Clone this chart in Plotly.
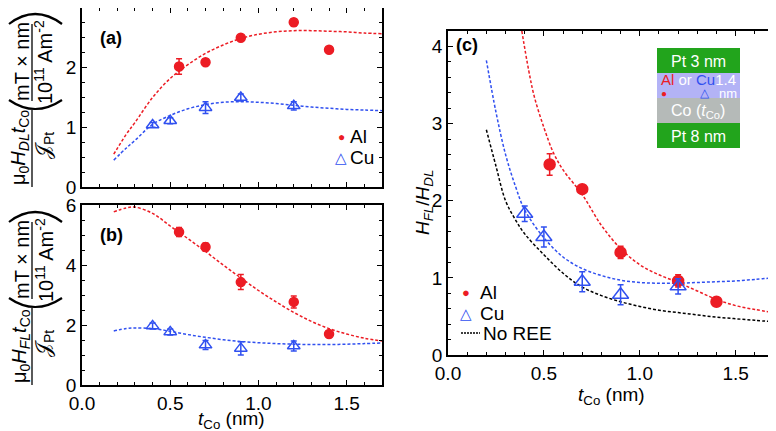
import plotly.graph_objects as go
from plotly.subplots import make_subplots

# ── data ────────────────────────────────────────────────────────────────────
t_al = [0.55, 0.7, 0.9, 1.2, 1.4]
t_cu = [0.4, 0.5, 0.7, 0.9, 1.2]

# (a) damping-like efficiency
dl_al = [2.02, 2.09, 2.50, 2.76, 2.30]
dl_al_err = [0.13, 0.05, 0.04, 0.06, 0.04]
dl_cu = [1.04, 1.11, 1.33, 1.50, 1.36]
dl_cu_err = [0.04, 0.05, 0.10, 0.06, 0.07]

# (b) field-like efficiency
fl_al = [5.10, 4.60, 3.43, 2.77, 1.70]
fl_al_err = [0.15, 0.13, 0.25, 0.20, 0.05]
fl_cu = [1.97, 1.77, 1.33, 1.22, 1.30]
fl_cu_err = [0.10, 0.10, 0.15, 0.22, 0.17]

# (c) ratio H_FL / H_DL
t_al_c = [0.53, 0.7, 0.9, 1.2, 1.4]
r_al = [2.47, 2.15, 1.33, 0.96, 0.69]
r_al_err = [0.14, 0.05, 0.08, 0.08, 0.03]
r_cu = [1.83, 1.53, 0.95, 0.78, 0.89]
r_cu_err = [0.10, 0.13, 0.13, 0.13, 0.10]

# fit curves
t_fit = [0.18, 0.25, 0.3, 0.4, 0.5, 0.6, 0.7, 0.8, 0.9, 1.0, 1.1, 1.2, 1.3, 1.4, 1.5, 1.6, 1.7]
fit_dl_al = [0.55, 0.88, 1.08, 1.50, 1.82, 2.05, 2.24, 2.38, 2.49, 2.56, 2.60, 2.62, 2.62, 2.61, 2.60, 2.58, 2.57]
fit_dl_cu = [0.45, 0.65, 0.78, 1.05, 1.20, 1.31, 1.38, 1.42, 1.43, 1.42, 1.40, 1.37, 1.34, 1.32, 1.30, 1.29, 1.28]
fit_fl_al = [5.77, 5.90, 5.93, 5.72, 5.30, 4.88, 4.45, 4.00, 3.57, 3.15, 2.77, 2.42, 2.12, 1.88, 1.70, 1.56, 1.47]
fit_fl_cu = [1.80, 1.88, 1.90, 1.88, 1.79, 1.68, 1.59, 1.51, 1.45, 1.41, 1.38, 1.36, 1.35, 1.35, 1.36, 1.38, 1.40]

t_fit_al_c = [0.385, 0.42, 0.45, 0.5, 0.55, 0.6, 0.7, 0.8, 0.9, 1.0, 1.1, 1.2, 1.3, 1.4, 1.5, 1.6, 1.7]
fit_r_al = [4.20, 3.70, 3.35, 2.95, 2.62, 2.40, 2.08, 1.68, 1.38, 1.17, 1.04, 0.94, 0.83, 0.72, 0.64, 0.59, 0.55]
t_fit_c = [0.2, 0.25, 0.3, 0.35, 0.4, 0.5, 0.6, 0.7, 0.8, 0.9, 1.0, 1.1, 1.2, 1.3, 1.4, 1.5, 1.6, 1.7]
fit_r_cu = [3.82, 3.15, 2.60, 2.20, 1.88, 1.52, 1.27, 1.12, 1.03, 0.97, 0.94, 0.93, 0.93, 0.94, 0.95, 0.96, 0.98, 1.00]
fit_r_none = [2.92, 2.45, 2.00, 1.76, 1.57, 1.30, 1.06, 0.88, 0.77, 0.69, 0.63, 0.58, 0.55, 0.52, 0.49, 0.47, 0.45, 0.43]

RED = '#ec1c24'
BLUE = '#3050f0'
FONT = 'Liberation Sans, Arial, sans-serif'
W, H = 776, 431
PAD = 8  # page body margin: the figure is drawn 8 px in from the window corner


def fx(p):
    return (p - PAD) / W


def fy(p):
    return 1 - (p - PAD) / H


def dom(a, b):
    return [max(0.0, min(1.0, a)), max(0.0, min(1.0, b))]


fig = make_subplots(rows=2, cols=2, specs=[[{}, {'rowspan': 2}], [{}, None]])


def points(x, y, err, sym, size, color, row, col):
    fig.add_trace(go.Scatter(
        x=x, y=y, mode='markers', showlegend=False,
        error_y=dict(type='data', array=err, color=color, thickness=1.5, width=3),
        marker=dict(symbol=sym, size=size, color=color, line=dict(color=color, width=1.5)),
    ), row=row, col=col)


def curve(x, y, color, row, col):
    fig.add_trace(go.Scatter(
        x=x, y=y, mode='lines', line_shape='spline', showlegend=False,
        line=dict(color=color, width=1.5, dash='3px,2px'), hoverinfo='skip',
    ), row=row, col=col)


# (a)
curve(t_fit, fit_dl_al, RED, 1, 1)
curve(t_fit, fit_dl_cu, BLUE, 1, 1)
points(t_al, dl_al, dl_al_err, 'circle', 9, RED, 1, 1)
points(t_cu, dl_cu, dl_cu_err, 'triangle-up-open', 11, BLUE, 1, 1)
# (b)
curve(t_fit, fit_fl_al, RED, 2, 1)
curve(t_fit, fit_fl_cu, BLUE, 2, 1)
points(t_al, fl_al, fl_al_err, 'circle', 9, RED, 2, 1)
points(t_cu, fl_cu, fl_cu_err, 'triangle-up-open', 11, BLUE, 2, 1)
# (c)
curve(t_fit_al_c, fit_r_al, RED, 1, 2)
curve(t_fit_c, fit_r_cu, BLUE, 1, 2)
curve(t_fit_c, fit_r_none, 'black', 1, 2)
points(t_al_c, r_al, r_al_err, 'circle', 11, RED, 1, 2)
points(t_cu, r_cu, r_cu_err, 'triangle-up-open', 14, BLUE, 1, 2)

# ── axes ────────────────────────────────────────────────────────────────────
ax_common = dict(showline=True, linecolor='black', linewidth=1.5, mirror='ticks',
                 ticks='inside', ticklen=5, tickwidth=1.2, tickcolor='black',
                 showgrid=False, zeroline=False, automargin=False,
                 tickfont=dict(family=FONT, size=19, color='black'))
fig.update_xaxes(**ax_common, range=[0, 1.7], dtick=0.5, tickformat='.1f',
                 minor=dict(dtick=0.1, ticks='inside', ticklen=3, tickcolor='black'))
fig.update_yaxes(**ax_common)

fig.update_xaxes(domain=dom(fx(82), fx(382)), showticklabels=False, row=1, col=1)
fig.update_xaxes(domain=dom(fx(82), fx(382)), row=2, col=1)
fig.update_xaxes(domain=dom(fx(448), fx(774)), row=1, col=2)
fig.update_yaxes(domain=dom(fy(187), fy(7)), range=[0, 3], dtick=1,
                 minor=dict(dtick=0.25, ticks='inside', ticklen=3, tickcolor='black'), row=1, col=1)
fig.update_yaxes(domain=dom(fy(385), fy(205)), range=[0, 6], dtick=2,
                 minor=dict(dtick=0.5, ticks='inside', ticklen=3, tickcolor='black'), row=2, col=1)
fig.update_yaxes(domain=dom(fy(355), fy(31)), range=[0, 4.2], dtick=1,
                 minor=dict(dtick=0.2, ticks='inside', ticklen=3, tickcolor='black'), row=1, col=2)

# ── annotations / shapes ────────────────────────────────────────────────────
ann = []
shapes = []


def text(x, y, s, size=19, color='black', angle=0, anchor='center'):
    ann.append(dict(x=fx(x), y=fy(y), xref='paper', yref='paper', text=s, showarrow=False,
                    textangle=angle, xanchor=anchor, yanchor='middle',
                    font=dict(family=FONT, size=size, color=color)))


def line(x0, y0, x1, y1, w=1.3, color='black', dash='solid'):
    shapes.append(dict(type='line', xref='paper', yref='paper', x0=fx(x0), y0=fy(y0),
                       x1=fx(x1), y1=fy(y1), line=dict(color=color, width=w, dash=dash)))


def bracket(x0, y0, cx, cy, x1, y1):
    shapes.append(dict(type='path', xref='paper', yref='paper',
                       path=f'M {fx(x0)},{fy(y0)} Q {fx(cx)},{fy(cy)} {fx(x1)},{fy(y1)}',
                       line=dict(color='black', width=2.2)))


# stacked fraction labels for (a) and (b)
for off, sub in [(0, 'DL'), (198, 'FL')]:
    text(20, 148 + off, f'μ<sub>0</sub><i>H</i><sub><i>{sub}</i></sub><i>t</i><sub>Co</sub>', size=20, angle=-90)
    line(32, 110 + off, 32, 187 + off)
    text(44, 146 + off, '𝒥<sub>Pt</sub>', size=20, angle=-90)
    bracket(9, 100 + off, 35, 118 + off, 62, 100 + off)
    text(22, 62 + off, 'mT × nm', size=20, angle=-90)
    line(32, 24 + off, 32, 101 + off)
    text(44, 62 + off, '10<sup>11</sup> Am<sup>-2</sup>', size=20, angle=-90)
    bracket(9, 24 + off, 35, 4 + off, 62, 24 + off)

# axis titles
text(232, 420, '<i>t</i><sub>Co</sub> (nm)')
text(611, 396, '<i>t</i><sub>Co</sub> (nm)')
text(424, 203, '<i>H</i><sub><i>FL</i></sub>/<i>H</i><sub><i>DL</i></sub>', angle=-90)

text(111, 38, '<b>(a)</b>', size=18)
text(111, 235, '<b>(b)</b>', size=18)
text(467, 45, '<b>(c)</b>', size=18)

# legends
text(341, 137, '●', size=12, color=RED)
text(348, 137, 'Al', anchor='left')
text(341, 158, '△', size=15, color=BLUE)
text(348, 158, 'Cu', anchor='left')
text(466, 292, '●', size=13, color=RED)
text(478, 292, 'Al', anchor='left')
text(466, 313, '△', size=15, color=BLUE)
text(478, 313, 'Cu', anchor='left')
line(461, 333, 480, 333, w=1.3, dash='2px,1px')
text(481, 333, 'No REE', anchor='left')

# inset stack
for y0, y1, c in [(48, 73, '#22a41c'), (73, 98, '#b3b3f6'), (98, 123, '#b5bab8'), (123, 148, '#22a41c')]:
    shapes.append(dict(type='rect', xref='paper', yref='paper', x0=fx(657), x1=fx(740),
                       y0=fy(y1), y1=fy(y0), fillcolor=c, line=dict(width=0), layer='above'))
text(698, 61, 'Pt 3 nm', size=16, color='white')
text(698, 79, f'<span style="color:{RED}">Al</span> or <span style="color:{BLUE}">Cu</span>1.4',
     size=15, color='white')
text(664, 93, '●', size=10, color=RED)
text(705, 93, '△', size=12, color=BLUE)
text(728, 93, 'nm', size=13, color='white')
text(698, 111, 'Co (<i>t</i><sub>Co</sub>)', size=16, color='white')
text(698, 136, 'Pt 8 nm', size=16, color='white')

fig.update_layout(
    width=W, height=H,
    margin=dict(l=0, r=0, t=0, b=0),
    plot_bgcolor='white', paper_bgcolor='white',
    font=dict(family=FONT, size=19, color='black'),
    showlegend=False,
    annotations=ann, shapes=shapes,
)

fig.write_html('out.html')
